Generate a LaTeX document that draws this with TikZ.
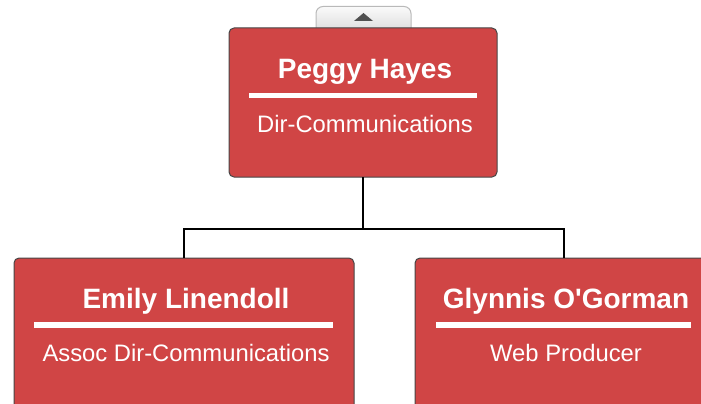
\documentclass[tikz,border=0pt]{standalone}
\usepackage{fontspec}
\setmainfont{Liberation Sans}[Ligatures=TeXOff]
\definecolor{cardred}{RGB}{208,69,69}
\definecolor{cardborder}{RGB}{70,70,70}
\definecolor{tabtop}{RGB}{250,250,250}
\definecolor{tabbot}{RGB}{220,220,220}
\definecolor{tabline}{RGB}{185,185,185}
\definecolor{arrowgray}{RGB}{80,80,80}
\begin{document}
\begin{tikzpicture}[x=1pt,y=-1pt,
  card/.style={draw=cardborder,line width=1pt,fill=cardred,rounded corners=5pt},
  ttl/.style={anchor=base,text=white,font=\fontsize{28}{32}\selectfont\bfseries,inner sep=0pt},
  sub/.style={anchor=base,text=white,font=\fontsize{23.8}{28}\selectfont,inner sep=0pt},
  rule/.style={draw=white,line width=5.5pt},
  conn/.style={draw=black,line width=1.6pt}]
\useasboundingbox (0,0) rectangle (701,404);
\clip (0,0) rectangle (701,404);
% tab
\path[draw=tabline,line width=1pt,top color=tabtop,bottom color=tabbot,rounded corners=7pt]
  (316,32) -- (316,6.5) -- (411,6.5) -- (411,32);
\fill[arrowgray] (354,21) -- (373,21) -- (363.5,13) -- cycle;
% connectors
\coordinate (j) at (363,229);
\coordinate (jl) at (184,229);
\coordinate (jr) at (564,229);
% top card
\path[card] (229,28) rectangle (497,177);
\node (top) at (363,177) {};
\node[ttl] (t1) at (365,78.5) {Peggy Hayes};
\draw[rule] (249,95.5) -- (477,95.5);
\node[sub] (s1) at (365,132.5) {Dir-Communications};
% left card
\path[card] (14,258) rectangle (354,430);
\node (left) at (184,258) {};
\node[ttl] (t2) at (186,308) {Emily Linendoll};
\draw[rule] (34,325) -- (333,325);
\node[sub] (s2) at (186,361.5) {Assoc Dir-Communications};
% right card
\path[card] (415,258) rectangle (730,430);
\node (right) at (564,258) {};
\node[ttl] (t3) at (566,308) {Glynnis O'Gorman};
\draw[rule] (436,325) -- (691,325);
\node[sub] (s3) at (566,361.5) {Web Producer};
% connector lines
\draw[conn] (top.center) -- (j) -- (jl) -- (left.center);
\draw[conn] (j) -- (jr) -- (right.center);
\end{tikzpicture}
\end{document}
